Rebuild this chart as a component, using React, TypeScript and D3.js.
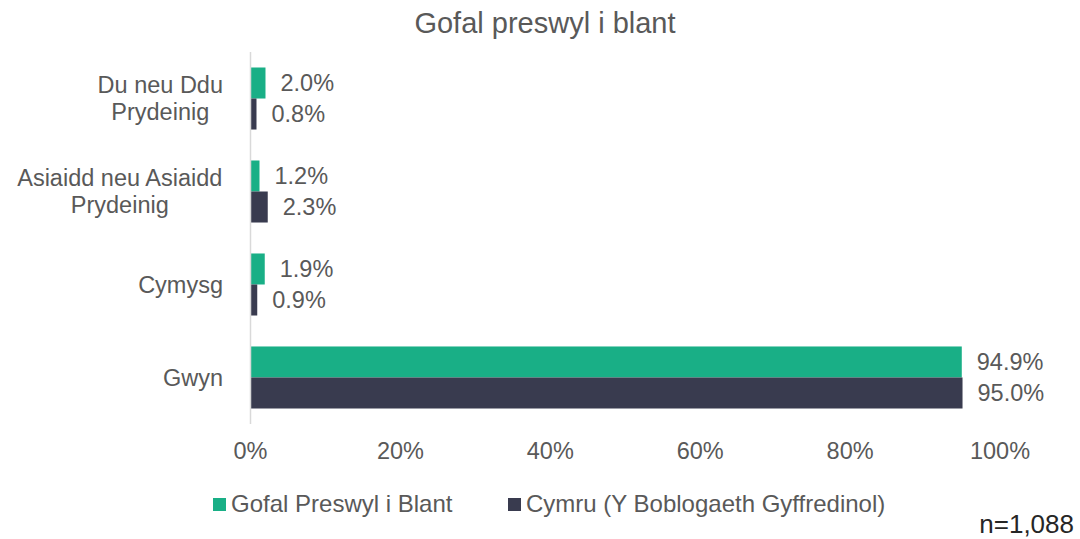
import React from "react";
import * as d3 from "d3";

const categories = ["Du neu Ddu Prydeinig", "Asiaidd neu Asiaidd Prydeinig", "Cymysg", "Gwyn"];
const categoryLines = [["Du neu Ddu", "Prydeinig"], ["Asiaidd neu Asiaidd", "Prydeinig"], ["Cymysg"], ["Gwyn"]];
const seriesNames = ["Gofal Preswyl i Blant", "Cymru (Y Boblogaeth Gyffredinol)"];
const residentialCare = [2.0, 1.2, 1.9, 94.9];
const walesPopulation = [0.8, 2.3, 0.9, 95.0];
const xTicks = [0, 20, 40, 60, 80, 100];
const title = "Gofal preswyl i blant";
const note = "n=1,088";

const colors = ["#19AF86", "#393B4F"];
const textColor = "#595959";
const font = "'Liberation Sans', Arial, sans-serif";

let ctx: CanvasRenderingContext2D | null = null;
function measure(text: string, size: number): number {
  if (!ctx) ctx = document.createElement("canvas").getContext("2d");
  if (!ctx) return text.length * size * 0.5;
  ctx.font = `${size}px ${font}`;
  return ctx.measureText(text).width;
}

export default function App() {
  const W = 1080, H = 539;
  const x = d3.scaleLinear().domain([0, 100]).range([250.5, 1000]);
  const y = d3.scaleBand<string>().domain(categories).range([52, 424]).paddingInner(0.333).paddingOuter(0.1667);
  const sub = d3.scaleBand<number>().domain([0, 1]).range([0, y.bandwidth()]);
  const series = [residentialCare, walesPopulation];
  const catSize = 23.5;
  const labelRight = 223;

  return (
    <svg width={W} height={H} style={{ position: "absolute", left: 0, top: 0, background: "#fff" }} fontFamily={font}>
      <rect x={0} y={0} width={W} height={H} fill="#fff" />
      <text x={545} y={33} textAnchor="middle" fontSize={29} fill={textColor}>{title}</text>

      {series.map((vals, si) =>
        vals.map((v, ci) => {
          const yy = (y(categories[ci]) as number) + (sub(si) as number);
          const h = sub.bandwidth();
          return (
            <g key={`${si}-${ci}`}>
              <rect x={x(0)} y={yy} width={x(v) - x(0)} height={h} fill={colors[si]} />
              <text x={x(v) + 15} y={yy + h / 2} dy="0.35em" fontSize={23.5} fill={textColor}>
                {v.toFixed(1) + "%"}
              </text>
            </g>
          );
        })
      )}

      <line x1={x(0)} x2={x(0)} y1={52} y2={424} stroke="#D9D9D9" strokeWidth={1.5} />

      {categories.map((c, ci) => {
        const cy = (y(c) as number) + y.bandwidth() / 2;
        const lines = categoryLines[ci];
        const lh = 27.5;
        const start = cy - ((lines.length - 1) * lh) / 2;
        const maxW = Math.max(...lines.map((l) => measure(l, catSize)));
        const cx = labelRight - maxW / 2;
        return (
          <text key={c} textAnchor="middle" fontSize={catSize} fill={textColor}>
            {lines.map((l, li) => (
              <tspan key={li} x={cx} y={start + li * lh} dy="0.35em">{l}</tspan>
            ))}
          </text>
        );
      })}

      {xTicks.map((t) => (
        <text key={t} x={x(t)} y={459} textAnchor="middle" fontSize={23.5} fill={textColor}>{t + "%"}</text>
      ))}

      {seriesNames.map((n, i) => {
        const lx = [213, 508][i];
        return (
          <g key={n}>
            <rect x={lx} y={498} width={13} height={13} fill={colors[i]} />
            <text x={lx + 18} y={512} fontSize={24} fill={textColor}>{n}</text>
          </g>
        );
      })}

      <text x={1074} y={533} textAnchor="end" fontSize={26} fill="#262626">{note}</text>
    </svg>
  );
}
